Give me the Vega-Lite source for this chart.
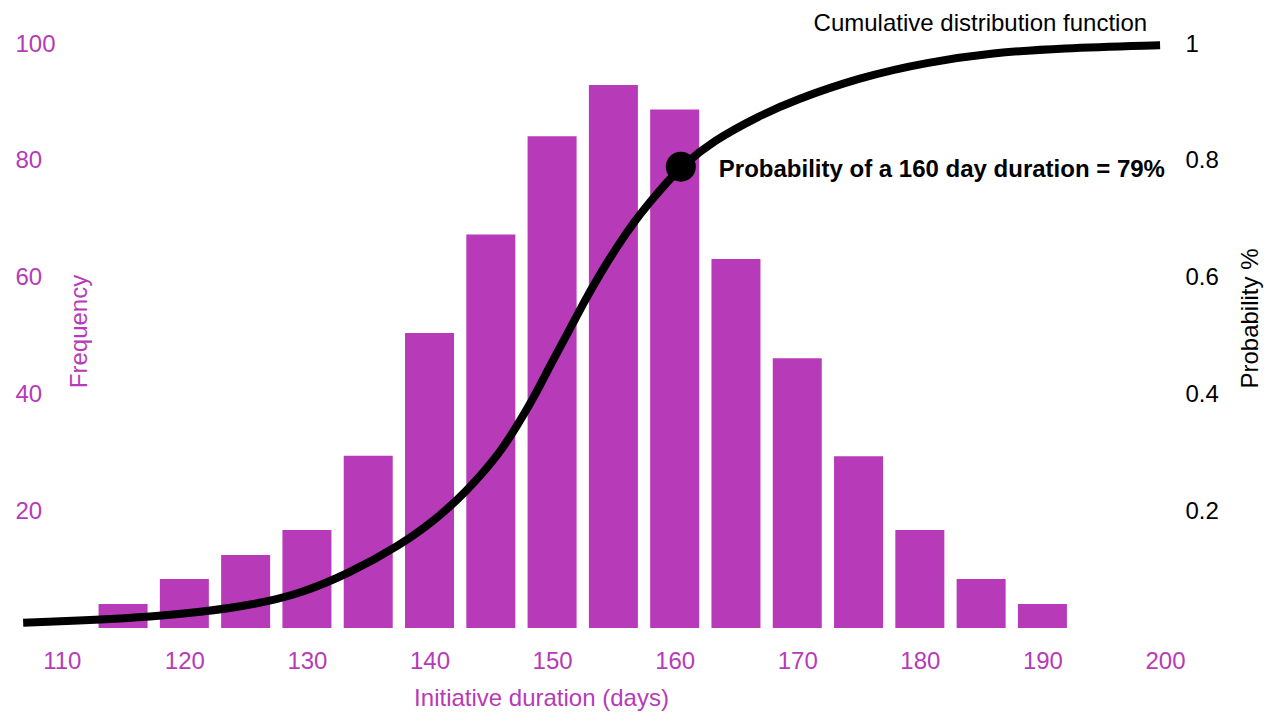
{
  "$schema": "https://vega.github.io/schema/vega-lite/v6.json",
  "width": 1140,
  "height": 584,
  "autosize": "none",
  "padding": {"left": 25, "top": 44, "right": 108, "bottom": 92},
  "background": "white",
  "config": {
    "view": {"stroke": null},
    "axis": {"grid": false, "domain": false, "ticks": false, "tickSize": 0, "labelOverlap": false, "labelBound": false, "labelFlush": false}
  },
  "datasets": {
    "bins": [
      {"duration": 115, "frequency": 4.1},
      {"duration": 120, "frequency": 8.4},
      {"duration": 125, "frequency": 12.5},
      {"duration": 130, "frequency": 16.8},
      {"duration": 135, "frequency": 29.5},
      {"duration": 140, "frequency": 50.5},
      {"duration": 145, "frequency": 67.4},
      {"duration": 150, "frequency": 84.2},
      {"duration": 155, "frequency": 93.0},
      {"duration": 160, "frequency": 88.8},
      {"duration": 165, "frequency": 63.2},
      {"duration": 170, "frequency": 46.2},
      {"duration": 175, "frequency": 29.4},
      {"duration": 180, "frequency": 16.8},
      {"duration": 185, "frequency": 8.4},
      {"duration": 190, "frequency": 4.1}
    ],
    "cdf": [
      {"duration": 106.85, "probability": 0.009},
      {"duration": 113.1, "probability": 0.014},
      {"duration": 117.2, "probability": 0.019},
      {"duration": 121.3, "probability": 0.027},
      {"duration": 125.4, "probability": 0.039},
      {"duration": 129.4, "probability": 0.058},
      {"duration": 133.5, "probability": 0.094},
      {"duration": 137.6, "probability": 0.142},
      {"duration": 140.3, "probability": 0.182},
      {"duration": 143.0, "probability": 0.233},
      {"duration": 145.75, "probability": 0.2995},
      {"duration": 147.1, "probability": 0.345},
      {"duration": 148.5, "probability": 0.394},
      {"duration": 149.8, "probability": 0.448},
      {"duration": 151.2, "probability": 0.502},
      {"duration": 152.55, "probability": 0.556},
      {"duration": 153.9, "probability": 0.606},
      {"duration": 155.3, "probability": 0.653},
      {"duration": 156.6, "probability": 0.693},
      {"duration": 158.0, "probability": 0.730},
      {"duration": 159.35, "probability": 0.763},
      {"duration": 160.55, "probability": 0.790},
      {"duration": 163.1, "probability": 0.834},
      {"duration": 167.0, "probability": 0.878},
      {"duration": 169.65, "probability": 0.903},
      {"duration": 175.1, "probability": 0.943},
      {"duration": 180.6, "probability": 0.969},
      {"duration": 186.0, "probability": 0.985},
      {"duration": 191.4, "probability": 0.993},
      {"duration": 199.6, "probability": 0.998}
    ],
    "marker": [
      {"duration": 160.5, "probability": 0.79, "label": "Probability of a 160 day duration = 79%"}
    ],
    "curveLabel": [
      {"duration": 199.6, "probability": 0.998, "label": "Cumulative distribution function"}
    ]
  },
  "encoding": {
    "x": {
      "field": "duration",
      "type": "quantitative",
      "scale": {"domain": [107, 200], "nice": false, "zero": false, "padding": 0},
      "axis": {
        "values": [110, 120, 130, 140, 150, 160, 170, 180, 190, 200],
        "labelColor": "#b73ab8",
        "labelFont": "Liberation Sans",
        "labelFontSize": 24,
        "labelBaseline": "alphabetic",
        "labelPadding": 40,
        "title": "Initiative duration (days)",
        "titleColor": "#b73ab8",
        "titleFont": "Liberation Sans",
        "titleFontSize": 24,
        "titleFontWeight": "normal",
        "titleBaseline": "alphabetic",
        "titleAlign": "center",
        "titleX": 516,
        "titleY": 77
      }
    }
  },
  "layer": [
    {
      "data": {"name": "bins"},
      "mark": {"type": "bar", "color": "#b73ab8", "width": 49},
      "encoding": {
        "y": {
          "field": "frequency",
          "type": "quantitative",
          "scale": {"domain": [0, 100], "nice": false},
          "axis": {
            "orient": "left",
            "values": [20, 40, 60, 80, 100],
            "labelColor": "#b73ab8",
            "labelFont": "Liberation Sans",
            "labelFontSize": 24,
            "labelAlign": "left",
            "labelBaseline": "middle",
            "labelPadding": 10,
            "title": "Frequency",
            "titleColor": "#b73ab8",
            "titleFont": "Liberation Sans",
            "titleFontSize": 24,
            "titleFontWeight": "normal",
            "titleAngle": 270,
            "titleAlign": "center",
            "titleBaseline": "middle",
            "titleX": 54,
            "titleY": 287
          }
        }
      }
    },
    {
      "encoding": {
        "y": {
          "field": "probability",
          "type": "quantitative",
          "scale": {"domain": [0, 1], "nice": false},
          "axis": {
            "orient": "right",
            "values": [0.2, 0.4, 0.6, 0.8, 1],
            "format": "~g",
            "labelColor": "black",
            "labelFont": "Liberation Sans",
            "labelFontSize": 24,
            "labelAlign": "left",
            "labelBaseline": "middle",
            "labelPadding": 20,
            "title": "Probability %",
            "titleColor": "black",
            "titleFont": "Liberation Sans",
            "titleFontSize": 24,
            "titleFontWeight": "normal",
            "titleAngle": 270,
            "titleAlign": "center",
            "titleBaseline": "middle",
            "titleX": 85,
            "titleY": 274
          }
        }
      },
      "layer": [
        {
          "data": {"name": "cdf"},
          "mark": {"type": "line", "color": "black", "strokeWidth": 8, "interpolate": "basis", "clip": false}
        },
        {
          "data": {"name": "marker"},
          "mark": {"type": "point", "filled": true, "shape": "circle", "size": 900, "color": "black", "opacity": 1}
        },
        {
          "data": {"name": "marker"},
          "mark": {"type": "text", "align": "left", "baseline": "alphabetic", "dx": 38, "dy": 10, "font": "Liberation Sans", "fontSize": 24, "fontWeight": "bold", "color": "black"},
          "encoding": {
            "text": {"field": "label"}
          }
        },
        {
          "data": {"name": "curveLabel"},
          "mark": {"type": "text", "align": "right", "baseline": "alphabetic", "dx": -13, "dy": -14, "font": "Liberation Sans", "fontSize": 24, "color": "black"},
          "encoding": {
            "text": {"field": "label"}
          }
        }
      ]
    }
  ],
  "resolve": {"scale": {"y": "independent"}}
}
